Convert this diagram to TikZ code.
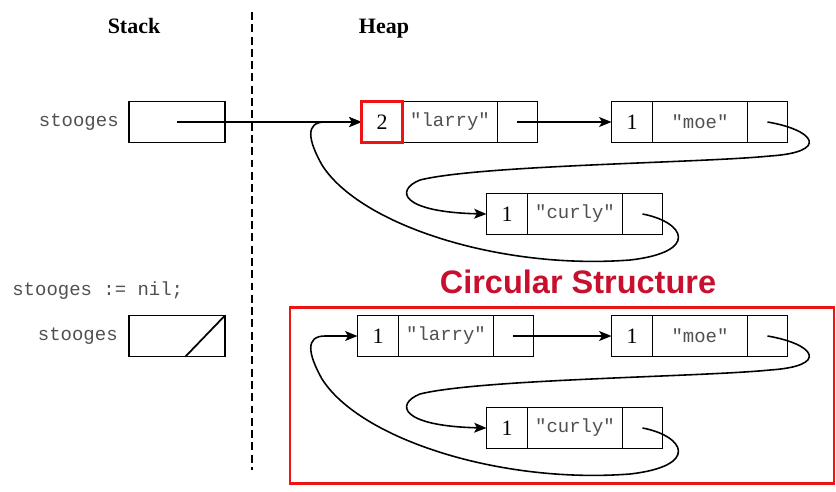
\documentclass[tikz,border=0pt]{standalone}
\usepackage{fontspec}
\setmainfont{Liberation Serif}
\newfontfamily\codefont{Liberation Mono}
\newfontfamily\titlefont{Liberation Sans}
\usetikzlibrary{positioning,arrows.meta}

\definecolor{boxred}{RGB}{236,20,20}
\definecolor{titlered}{RGB}{200,16,46}
\definecolor{codegray}{RGB}{80,80,80}

\tikzset{
  cell/.style={draw,line width=1pt,minimum height=0.82cm,inner sep=0,outer sep=0},
  cnt/.style={cell,minimum width=0.82cm,font=\fontsize{12.5}{14}\selectfont},
  str/.style={cell,minimum width=1.9cm,text=codegray,
    font=\codefont\fontsize{10.8}{12}\selectfont},
  ptr/.style={cell,minimum width=0.8cm},
  var/.style={cell,minimum width=1.92cm},
  code/.style={inner sep=0,text=codegray,font=\codefont\fontsize{10.8}{12}\selectfont},
  head/.style={anchor=base,font=\bfseries\fontsize{12.5}{14}\selectfont},
  link/.style={line width=0.9pt,-{Stealth[length=7pt,width=5.6pt,inset=1.6pt]}},
}

\begin{document}
\begin{tikzpicture}[x=0.02cm,y=-0.02cm]
  \useasboundingbox (0,0) rectangle (836,491);

  \node[head] (stack) at (134,33) {Stack};
  \node[head] (heap) at (384,33) {Heap};
  \draw[line width=0.8pt,dash pattern=on 4.5pt off 2.5pt] (252,12) -- (252,470);

  % stack side
  \node[var] (s1) at (177,122) {};
  \node[code,left=0.2cm of s1] (v1) {stooges};
  \node[code,anchor=west] (nil) at (12,291) {stooges := nil;};
  \node[var] (s2) at (177,336) {};
  \node[code,left=0.22cm of s2] (v2) {stooges};
  \draw[line width=1pt] ([xshift=0.17cm]s2.south) -- (s2.north east);

  % the three cells on the heap, before and after the assignment
  \foreach \row/\dy/\lx/\refs in {1/0/382/2, 2/214/378/1}
  {
    \begin{scope}[shift={(0,\dy)}]
      \node[cnt] (l\row c) at (\lx,122) {\refs};
      \node[str,right=0pt of l\row c] (l\row s) {"larry"};
      \node[ptr,right=0pt of l\row s] (l\row p) {};
      \node[cnt] (m\row c) at (632,122) {1};
      \node[str,right=0pt of m\row c] (m\row s) {"moe"};
      \node[ptr,right=0pt of m\row s] (m\row p) {};
      \node[cnt] (c\row c) at (507,214) {1};
      \node[str,right=0pt of c\row c] (c\row s) {"curly"};
      \node[ptr,right=0pt of c\row s] (c\row p) {};

      \draw[link] (l\row p.center) -- (m\row c.west);
      \draw[link] (m\row p.center) .. controls (815,130) and (830,152) .. (770,156)
        .. controls (700,163) and (480,165) .. (420,180)
        .. controls (395,190) and (400,212) .. (c\row c.west);
      \draw[link] (c\row p.center) .. controls (685,222) and (700,252) .. (630,260)
        .. controls (500,270) and (360,225) .. (322,165)
        .. controls (308,140) and (305,122) .. (325,122) -- (l\row c.west);
    \end{scope}
  }

  \draw[link] (s1.center) -- (l1c.west);
  \draw[line width=1.7pt,boxred] (l1c.south west) rectangle (l1c.north east);

  \node[font=\titlefont\bfseries\fontsize{18.5}{22}\selectfont,text=titlered]
    (title) at (578,282) {Circular Structure};
  \draw[line width=1.7pt,boxred] (290,307) rectangle (834,483);
\end{tikzpicture}
\end{document}
